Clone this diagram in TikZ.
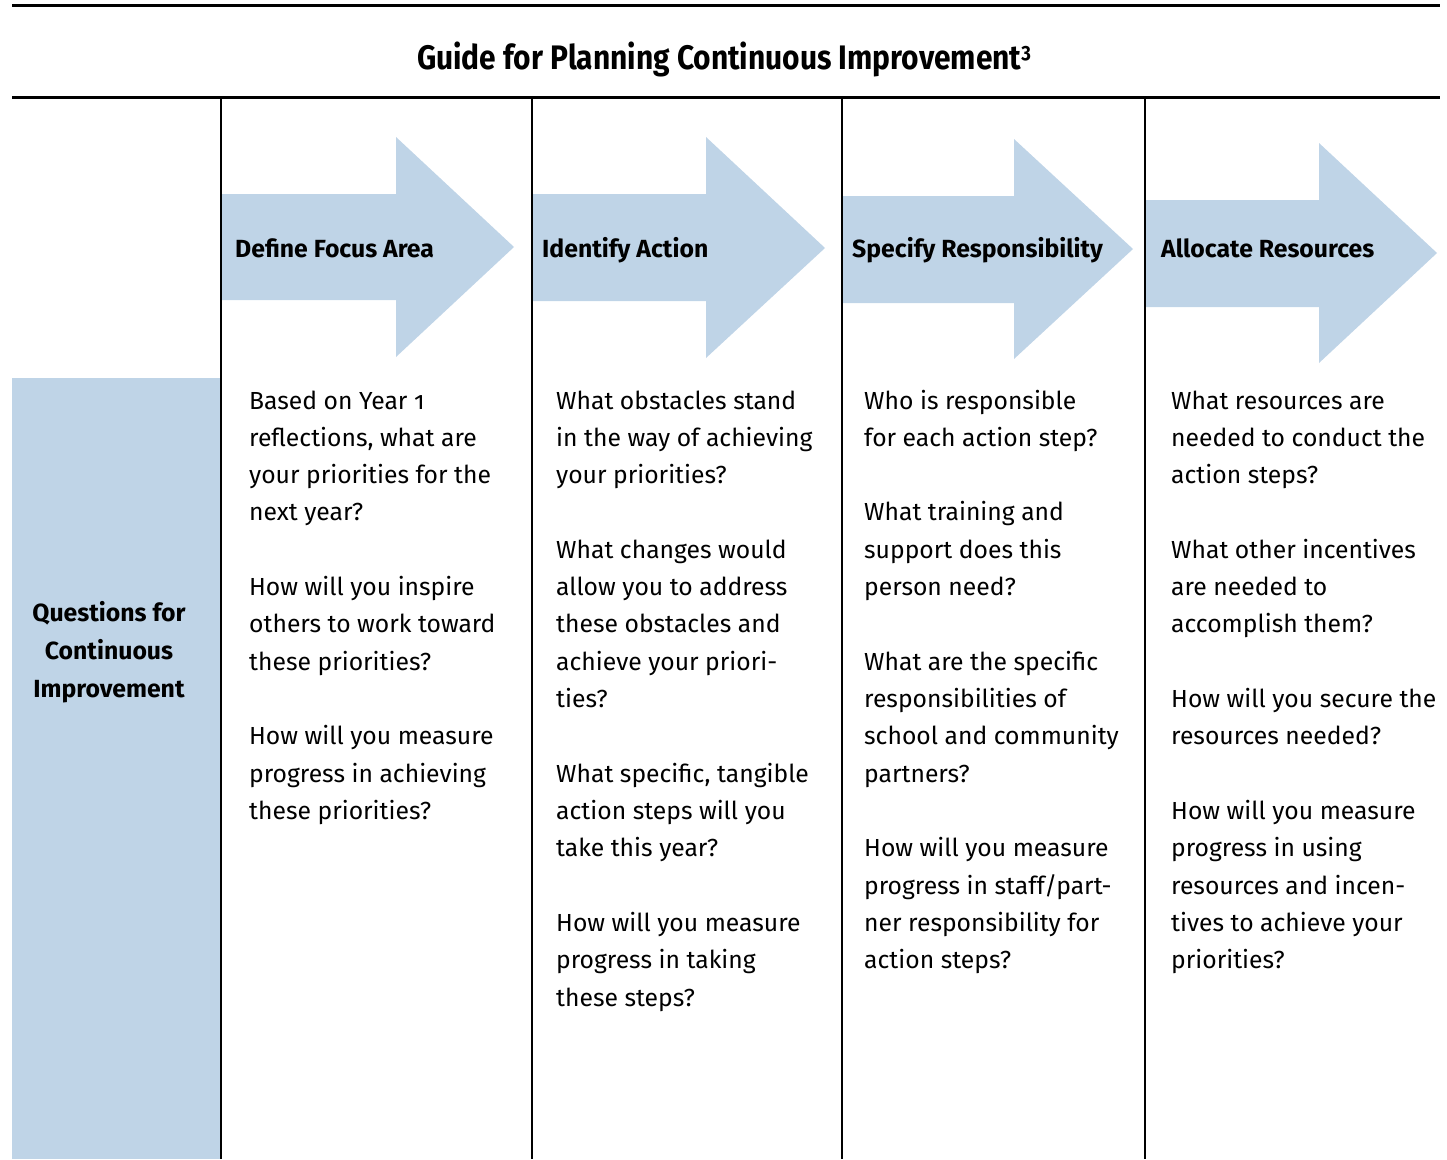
\documentclass[tikz,border=0pt]{standalone}
\usepackage{fontspec}
\setmainfont{Fira Sans}[Numbers=OldStyle]
\definecolor{qblue}{RGB}{191,212,231}
\tikzset{
  body/.style={anchor=base west, inner sep=0pt, font=\fontsize{24.7}{28}\selectfont},
  head/.style={anchor=base west, inner sep=0pt, font=\bfseries\fontsize{24.8}{28}\selectfont},
  rule/.style={line width=3pt, black},
  colline/.style={line width=2.5pt, black},
  bluearrow/.style={fill=qblue}
}
\begin{document}
\begin{tikzpicture}[x=1pt,y=-1pt]
\useasboundingbox (0,0) rectangle (1447,1159);
% left blue column
\fill[qblue] (12,378) rectangle (221,1159);
% arrows
\fill[bluearrow] (221,194) -- (396,194) -- (396,137) -- (514,247) -- (396,357) -- (396,300) -- (221,300) -- cycle;
\fill[bluearrow] (532,194) -- (706,194) -- (706,137) -- (825,248) -- (706,358) -- (706,301) -- (532,301) -- cycle;
\fill[bluearrow] (842,196) -- (1014,196) -- (1014,139) -- (1133,249) -- (1014,359) -- (1014,303) -- (842,303) -- cycle;
\fill[bluearrow] (1145,200) -- (1319,200) -- (1319,143) -- (1437,253) -- (1319,363) -- (1319,307) -- (1145,307) -- cycle;
% rules
\coordinate (t1) at (12,5); \coordinate (t2) at (1440,5);
\coordinate (m1) at (12,97); \coordinate (m2) at (1440,97);
\draw[rule] (t1) -- (t2);
\draw[rule] (m1) -- (m2);
\foreach \x [count=\k] in {221,532,842,1145}{
  \coordinate (vt\k) at (\x,97); \coordinate (vb\k) at (\x,1159);
  \draw[colline] (vt\k) -- (vb\k);
}
% title
\node[anchor=base, inner sep=0pt, font=\bfseries\fontsize{34}{34}\selectfont] (title) at (724,69)
  {\scalebox{0.88}[1]{Guide for Planning Continuous Improvement\raisebox{0.3em}{\fontsize{21}{21}\selectfont 3}}};
% left label
\node[align=center, inner sep=0pt, font=\bfseries\fontsize{24.8}{38}\selectfont] (qlabel) at (109,652)
  {Questions for\\Continuous\\Improvement};
% headers
\node[head] (h1) at (235,257) {Define Focus Area};
\node[head] (h2) at (542,257) {Identify Action};
\node[head] (h3) at (852,257) {Specify Responsibility};
\node[head] (h4) at (1161,257) {Allocate Resources};
% column 1
\foreach \i/\t in {0/Based on Year 1, 1/{reflections, what are}, 2/your priorities for the, 3/next year?,
  5/How will you inspire, 6/others to work toward, 7/these priorities?,
  9/How will you measure, 10/progress in achieving, 11/these priorities?}
  \node[body, name=a\i] at (249,409+\i*37.33) {\t};
% column 2
\foreach \i/\t in {0/What obstacles stand, 1/in the way of achieving, 2/your priorities?,
  4/What changes would, 5/allow you to address, 6/these obstacles and, 7/achieve your priori-, 8/ties?,
  10/{What specific, tangible}, 11/action steps will you, 12/take this year?,
  14/How will you measure, 15/progress in taking, 16/these steps?}
  \node[body, name=b\i] at (556,409+\i*37.33) {\t};
% column 3
\foreach \i/\t in {0/Who is responsible, 1/for each action step?,
  3/What training and, 4/support does this, 5/person need?,
  7/What are the specific, 8/responsibilities of, 9/school and community, 10/partners?,
  12/How will you measure, 13/{progress in staff/part-}, 14/ner responsibility for, 15/action steps?}
  \node[body, name=c\i] at (864,409+\i*37.33) {\t};
% column 4
\foreach \i/\t in {0/What resources are, 1/needed to conduct the, 2/action steps?,
  4/What other incentives, 5/are needed to, 6/accomplish them?,
  8/How will you secure the, 9/resources needed?,
  11/How will you measure, 12/progress in using, 13/resources and incen-, 14/tives to achieve your, 15/priorities?}
  \node[body, name=d\i] at (1171,409+\i*37.33) {\t};
\end{tikzpicture}
\end{document}
